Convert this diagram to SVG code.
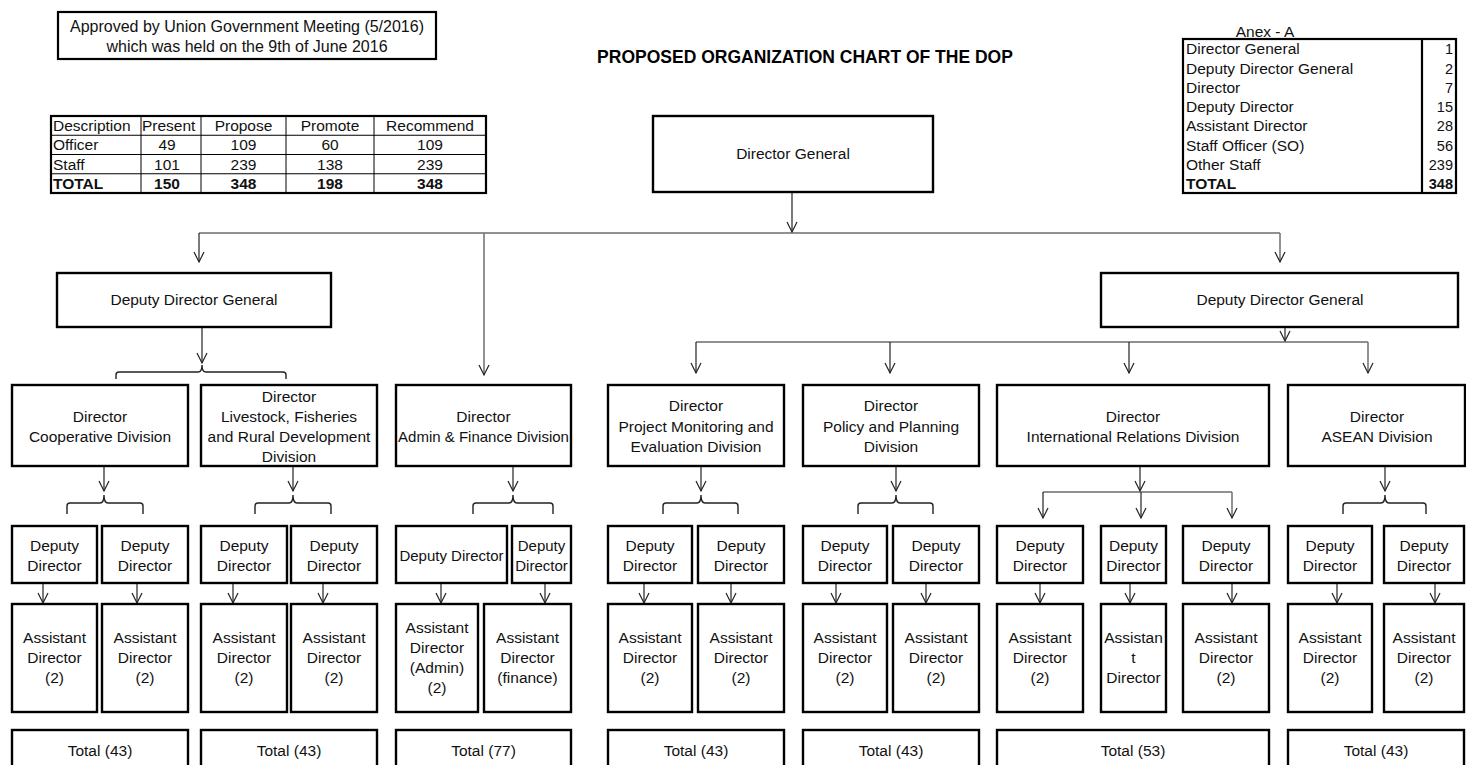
<svg xmlns="http://www.w3.org/2000/svg" width="1466" height="765" viewBox="0 0 1466 765">
  <defs>
    <style>
      .t { font-family: "Liberation Sans", Arial, sans-serif; font-size: 15.5px; fill: #111; text-anchor: middle; }
      .tl { font-family: "Liberation Sans", Arial, sans-serif; font-size: 15.5px; fill: #111; }
      .tc { font-family: "Liberation Sans", Arial, sans-serif; font-size: 15.5px; fill: #111; text-anchor: middle; }
      .tr { font-family: "Liberation Sans", Arial, sans-serif; font-size: 14.5px; fill: #111; text-anchor: end; }
      .note { font-size: 16px; }
      .b { font-weight: bold; }
      .sm { font-size: 15px; }
      .title { font-family: "Liberation Sans", Arial, sans-serif; font-size: 17.5px; font-weight: bold; fill: #000; text-anchor: middle; }
      .box { fill: #fff; stroke: #000; stroke-width: 2.4; }
      .frame { fill: none; stroke: #000; stroke-width: 2.2; }
      .grid { fill: none; stroke: #000; stroke-width: 1; }
      .ln { fill: none; stroke: #222; stroke-width: 1.2; }
      .arr { fill: none; stroke: #222; stroke-width: 1.2; marker-end: url(#head); }
      .arrg { fill: none; stroke: #777; stroke-width: 1.6; marker-end: url(#head); }
      .brace { fill: none; stroke: #222; stroke-width: 1.4; }
    </style>
    <marker id="head" markerUnits="userSpaceOnUse" markerWidth="14" markerHeight="14" refX="11" refY="6" orient="auto" viewBox="0 0 14 12">
      <path d="M1,1 L11,6 L1,11" fill="none" stroke="#222" stroke-width="1.2"/>
    </marker>
  </defs>

  <!-- approval note -->
  <g id="approval">
    <rect class="frame" x="58" y="12" width="378" height="47"/>
    <text class="tc note" x="247" y="32">Approved by Union Government Meeting (5/2016)</text>
    <text class="tc note" x="247" y="52">which was held on the 9th of June 2016</text>
  </g>

  <text class="title" x="805" y="63">PROPOSED ORGANIZATION CHART OF THE DOP</text>

  <!-- summary table -->
  <g id="summary-table">
    <rect class="frame" x="51" y="116" width="435" height="77"/>
    <path class="grid" d="M51,135.25 H486 M51,154.5 H486 M51,173.75 H486 M141,116 V193 M201,116 V193 M286,116 V193 M374,116 V193"/>
    <text class="tl" x="53" y="131">Description</text>
    <text class="tl" x="142" y="131">Present</text>
    <text class="tc" x="243.5" y="131">Propose</text>
    <text class="tc" x="330" y="131">Promote</text>
    <text class="tc" x="430" y="131">Recommend</text>
    <text class="tl" x="53" y="150">Officer</text>
    <text class="tc" x="167" y="150">49</text>
    <text class="tc" x="243.5" y="150">109</text>
    <text class="tc" x="330" y="150">60</text>
    <text class="tc" x="430" y="150">109</text>
    <text class="tl" x="53" y="169.5">Staff</text>
    <text class="tc" x="167" y="169.5">101</text>
    <text class="tc" x="243.5" y="169.5">239</text>
    <text class="tc" x="330" y="169.5">138</text>
    <text class="tc" x="430" y="169.5">239</text>
    <text class="tl b" x="53" y="189">TOTAL</text>
    <text class="tc b" x="167" y="189">150</text>
    <text class="tc b" x="243.5" y="189">348</text>
    <text class="tc b" x="330" y="189">198</text>
    <text class="tc b" x="430" y="189">348</text>
  </g>

  <!-- annex A table -->
  <g id="annex-table">
    <text class="tc" x="1265" y="37">Anex - A</text>
    <rect class="frame" x="1183" y="39" width="273" height="154"/>
    <path class="frame" d="M1422,39 V193"/>
    <text class="tl" x="1186" y="54">Director General</text>
    <text class="tr" x="1453" y="54">1</text>
    <text class="tl" x="1186" y="73.5">Deputy Director General</text>
    <text class="tr" x="1453" y="73.5">2</text>
    <text class="tl" x="1186" y="92.5">Director</text>
    <text class="tr" x="1453" y="92.5">7</text>
    <text class="tl" x="1186" y="112">Deputy Director</text>
    <text class="tr" x="1453" y="112">15</text>
    <text class="tl" x="1186" y="131">Assistant Director</text>
    <text class="tr" x="1453" y="131">28</text>
    <text class="tl" x="1186" y="150.5">Staff Officer (SO)</text>
    <text class="tr" x="1453" y="150.5">56</text>
    <text class="tl" x="1186" y="169.5">Other Staff</text>
    <text class="tr" x="1453" y="169.5">239</text>
    <text class="tl b" x="1186" y="189">TOTAL</text>
    <text class="tr b" x="1453" y="189">348</text>
  </g>

  <!-- connectors -->
  <g id="connectors">
    <!-- Director General to the two deputies and Admin -->
    <path class="arr" d="M792,192 V232"/>
    <path class="ln" d="M199,233 H1280"/>
    <path class="arr" d="M199,233 V262"/>
    <path class="arrg" d="M484,233 V375"/>
    <path class="arrg" d="M1280,233 V262"/>

    <!-- left Deputy Director General -->
    <path class="arr" d="M202,327 V363"/>
    <path class="brace" d="M116,379 V375 Q116,372 119,372 H198 Q202,372 202,365 Q202,372 206,372 H283 Q286,372 286,375 V379"/>

    <!-- right Deputy Director General -->
    <path class="arr" d="M1285,327 V341"/>
    <path class="ln" d="M696,342 H1368"/>
    <path class="arr" d="M696,342 V373"/>
    <path class="arr" d="M890,342 V373"/>
    <path class="arr" d="M1129,342 V373"/>
    <path class="arrg" d="M1368,342 V373"/>

    <!-- Directors to deputies -->
    <path class="arr" d="M104,466 V491"/>
    <path class="brace" d="M67,514 V506 Q67,503 70,503 H100 Q104,503 104,495 Q104,503 108,503 H140 Q143,503 143,506 V514"/>
    <path class="arr" d="M293,466 V491"/>
    <path class="brace" d="M255,514 V506 Q255,503 258,503 H289 Q293,503 293,495 Q293,503 297,503 H328 Q331,503 331,506 V514"/>
    <path class="arr" d="M513,466 V491"/>
    <path class="brace" d="M473,514 V506 Q473,503 476,503 H509 Q513,503 513,495 Q513,503 517,503 H550 Q553,503 553,506 V514"/>
    <path class="arr" d="M701,466 V491"/>
    <path class="brace" d="M663,514 V506 Q663,503 666,503 H697 Q701,503 701,495 Q701,503 705,503 H735 Q738,503 738,506 V514"/>
    <path class="arr" d="M896,466 V491"/>
    <path class="brace" d="M858,514 V506 Q858,503 861,503 H892 Q896,503 896,495 Q896,503 900,503 H930 Q933,503 933,506 V514"/>
    <path class="arr" d="M1140,466 V491"/>
    <path class="ln" d="M1043,492 H1232"/>
    <path class="arr" d="M1043,492 V518"/>
    <path class="arr" d="M1141,492 V518"/>
    <path class="arrg" d="M1232,492 V518"/>
    <path class="arr" d="M1385,466 V491"/>
    <path class="brace" d="M1343,514 V506 Q1343,503 1346,503 H1381 Q1385,503 1385,495 Q1385,503 1389,503 H1423 Q1426,503 1426,506 V514"/>

    <!-- Deputy Directors to Assistant Directors -->
    <path class="arr" d="M43,583 V603"/>
    <path class="arr" d="M137,583 V603"/>
    <path class="arr" d="M233,583 V603"/>
    <path class="arr" d="M323,583 V603"/>
    <path class="arr" d="M441,583 V603"/>
    <path class="arr" d="M545,583 V603"/>
    <path class="arr" d="M644,583 V603"/>
    <path class="arr" d="M731,583 V603"/>
    <path class="arr" d="M836,583 V603"/>
    <path class="arr" d="M926,583 V603"/>
    <path class="arr" d="M1040,583 V603"/>
    <path class="arr" d="M1130,583 V603"/>
    <path class="arr" d="M1232,583 V603"/>
    <path class="arr" d="M1337,583 V603"/>
    <path class="arr" d="M1435,583 V603"/>
  </g>

  <!-- top level -->
  <g id="director-general">
    <rect class="box" x="653" y="116" width="280" height="76"/>
    <text class="t" x="793" y="159">Director General</text>
  </g>
  <g id="ddg-left">
    <rect class="box" x="57" y="273" width="274" height="54"/>
    <text class="t" x="194" y="305">Deputy Director General</text>
  </g>
  <g id="ddg-right">
    <rect class="box" x="1101" y="273" width="357" height="54"/>
    <text class="t" x="1280" y="305">Deputy Director General</text>
  </g>

  <!-- directors -->
  <g id="dir-cooperative">
    <rect class="box" x="12" y="385" width="176" height="81"/>
    <text class="t" x="100" y="422">Director</text>
    <text class="t" x="100" y="442">Cooperative Division</text>
  </g>
  <g id="dir-livestock">
    <rect class="box" x="201" y="385" width="176" height="81"/>
    <text class="t" x="289" y="402">Director</text>
    <text class="t" x="289" y="422">Livestock, Fisheries</text>
    <text class="t" x="289" y="442">and Rural Development</text>
    <text class="t" x="289" y="462">Division</text>
  </g>
  <g id="dir-admin">
    <rect class="box" x="396" y="385" width="175" height="81"/>
    <text class="t" x="483.5" y="422">Director</text>
    <text class="t sm" x="483.5" y="442">Admin &amp; Finance Division</text>
  </g>
  <g id="dir-monitoring">
    <rect class="box" x="608" y="385" width="176" height="81"/>
    <text class="t" x="696" y="411">Director</text>
    <text class="t" x="696" y="432">Project Monitoring and</text>
    <text class="t" x="696" y="452">Evaluation Division</text>
  </g>
  <g id="dir-policy">
    <rect class="box" x="803" y="385" width="176" height="81"/>
    <text class="t" x="891" y="411">Director</text>
    <text class="t" x="891" y="432">Policy and Planning</text>
    <text class="t" x="891" y="452">Division</text>
  </g>
  <g id="dir-international">
    <rect class="box" x="997" y="385" width="272" height="81"/>
    <text class="t" x="1133" y="422">Director</text>
    <text class="t" x="1133" y="442">International Relations Division</text>
  </g>
  <g id="dir-asean">
    <rect class="box" x="1288" y="385" width="177" height="81"/>
    <text class="t" x="1377" y="422">Director</text>
    <text class="t" x="1377" y="442">ASEAN Division</text>
  </g>

  <!-- deputy directors -->
  <g id="dd-1"><rect class="box" x="12" y="526" width="85" height="57"/><text class="t" x="54.5" y="551">Deputy</text><text class="t" x="54.5" y="571">Director</text></g>
  <g id="dd-2"><rect class="box" x="102" y="526" width="86" height="57"/><text class="t" x="145" y="551">Deputy</text><text class="t" x="145" y="571">Director</text></g>
  <g id="dd-3"><rect class="box" x="201" y="526" width="86" height="57"/><text class="t" x="244" y="551">Deputy</text><text class="t" x="244" y="571">Director</text></g>
  <g id="dd-4"><rect class="box" x="291" y="526" width="86" height="57"/><text class="t" x="334" y="551">Deputy</text><text class="t" x="334" y="571">Director</text></g>
  <g id="dd-5"><rect class="box" x="396" y="526" width="111" height="57"/><text class="t sm" x="451.5" y="561">Deputy Director</text></g>
  <g id="dd-6"><rect class="box" x="512" y="526" width="59" height="57"/><text class="t sm" x="541.5" y="551">Deputy</text><text class="t sm" x="541.5" y="571">Director</text></g>
  <g id="dd-7"><rect class="box" x="608" y="526" width="84" height="57"/><text class="t" x="650" y="551">Deputy</text><text class="t" x="650" y="571">Director</text></g>
  <g id="dd-8"><rect class="box" x="698" y="526" width="86" height="57"/><text class="t" x="741" y="551">Deputy</text><text class="t" x="741" y="571">Director</text></g>
  <g id="dd-9"><rect class="box" x="803" y="526" width="84" height="57"/><text class="t" x="845" y="551">Deputy</text><text class="t" x="845" y="571">Director</text></g>
  <g id="dd-10"><rect class="box" x="893" y="526" width="86" height="57"/><text class="t" x="936" y="551">Deputy</text><text class="t" x="936" y="571">Director</text></g>
  <g id="dd-11"><rect class="box" x="997" y="526" width="86" height="57"/><text class="t" x="1040" y="551">Deputy</text><text class="t" x="1040" y="571">Director</text></g>
  <g id="dd-12"><rect class="box" x="1101" y="526" width="65" height="57"/><text class="t" x="1133.5" y="551">Deputy</text><text class="t" x="1133.5" y="571">Director</text></g>
  <g id="dd-13"><rect class="box" x="1183" y="526" width="86" height="57"/><text class="t" x="1226" y="551">Deputy</text><text class="t" x="1226" y="571">Director</text></g>
  <g id="dd-14"><rect class="box" x="1288" y="526" width="84" height="57"/><text class="t" x="1330" y="551">Deputy</text><text class="t" x="1330" y="571">Director</text></g>
  <g id="dd-15"><rect class="box" x="1384" y="526" width="80" height="57"/><text class="t" x="1424" y="551">Deputy</text><text class="t" x="1424" y="571">Director</text></g>

  <!-- assistant directors -->
  <g id="ad-1"><rect class="box" x="12" y="604" width="85" height="108"/><text class="t" x="54.5" y="643">Assistant</text><text class="t" x="54.5" y="663">Director</text><text class="t" x="54.5" y="683">(2)</text></g>
  <g id="ad-2"><rect class="box" x="102" y="604" width="86" height="108"/><text class="t" x="145" y="643">Assistant</text><text class="t" x="145" y="663">Director</text><text class="t" x="145" y="683">(2)</text></g>
  <g id="ad-3"><rect class="box" x="201" y="604" width="86" height="108"/><text class="t" x="244" y="643">Assistant</text><text class="t" x="244" y="663">Director</text><text class="t" x="244" y="683">(2)</text></g>
  <g id="ad-4"><rect class="box" x="291" y="604" width="86" height="108"/><text class="t" x="334" y="643">Assistant</text><text class="t" x="334" y="663">Director</text><text class="t" x="334" y="683">(2)</text></g>
  <g id="ad-5"><rect class="box" x="396" y="604" width="82" height="108"/><text class="t" x="437" y="633">Assistant</text><text class="t" x="437" y="653">Director</text><text class="t" x="437" y="673">(Admin)</text><text class="t" x="437" y="693">(2)</text></g>
  <g id="ad-6"><rect class="box" x="484" y="604" width="87" height="108"/><text class="t" x="527.5" y="643">Assistant</text><text class="t" x="527.5" y="663">Director</text><text class="t" x="527.5" y="683">(finance)</text></g>
  <g id="ad-7"><rect class="box" x="608" y="604" width="84" height="108"/><text class="t" x="650" y="643">Assistant</text><text class="t" x="650" y="663">Director</text><text class="t" x="650" y="683">(2)</text></g>
  <g id="ad-8"><rect class="box" x="698" y="604" width="86" height="108"/><text class="t" x="741" y="643">Assistant</text><text class="t" x="741" y="663">Director</text><text class="t" x="741" y="683">(2)</text></g>
  <g id="ad-9"><rect class="box" x="803" y="604" width="84" height="108"/><text class="t" x="845" y="643">Assistant</text><text class="t" x="845" y="663">Director</text><text class="t" x="845" y="683">(2)</text></g>
  <g id="ad-10"><rect class="box" x="893" y="604" width="86" height="108"/><text class="t" x="936" y="643">Assistant</text><text class="t" x="936" y="663">Director</text><text class="t" x="936" y="683">(2)</text></g>
  <g id="ad-11"><rect class="box" x="997" y="604" width="86" height="108"/><text class="t" x="1040" y="643">Assistant</text><text class="t" x="1040" y="663">Director</text><text class="t" x="1040" y="683">(2)</text></g>
  <g id="ad-12"><rect class="box" x="1101" y="604" width="65" height="108"/><text class="t" x="1133.5" y="643">Assistan</text><text class="t" x="1133.5" y="663">t</text><text class="t" x="1133.5" y="683">Director</text></g>
  <g id="ad-13"><rect class="box" x="1183" y="604" width="86" height="108"/><text class="t" x="1226" y="643">Assistant</text><text class="t" x="1226" y="663">Director</text><text class="t" x="1226" y="683">(2)</text></g>
  <g id="ad-14"><rect class="box" x="1288" y="604" width="84" height="108"/><text class="t" x="1330" y="643">Assistant</text><text class="t" x="1330" y="663">Director</text><text class="t" x="1330" y="683">(2)</text></g>
  <g id="ad-15"><rect class="box" x="1384" y="604" width="80" height="108"/><text class="t" x="1424" y="643">Assistant</text><text class="t" x="1424" y="663">Director</text><text class="t" x="1424" y="683">(2)</text></g>

  <!-- division totals -->
  <g id="total-cooperative"><rect class="box" x="12" y="730" width="176" height="42"/><text class="t" x="100" y="756">Total (43)</text></g>
  <g id="total-livestock"><rect class="box" x="201" y="730" width="176" height="42"/><text class="t" x="289" y="756">Total (43)</text></g>
  <g id="total-admin"><rect class="box" x="396" y="730" width="175" height="42"/><text class="t" x="483.5" y="756">Total (77)</text></g>
  <g id="total-monitoring"><rect class="box" x="608" y="730" width="176" height="42"/><text class="t" x="696" y="756">Total (43)</text></g>
  <g id="total-policy"><rect class="box" x="803" y="730" width="176" height="42"/><text class="t" x="891" y="756">Total (43)</text></g>
  <g id="total-international"><rect class="box" x="997" y="730" width="272" height="42"/><text class="t" x="1133" y="756">Total (53)</text></g>
  <g id="total-asean"><rect class="box" x="1288" y="730" width="176" height="42"/><text class="t" x="1376" y="756">Total (43)</text></g>
</svg>
